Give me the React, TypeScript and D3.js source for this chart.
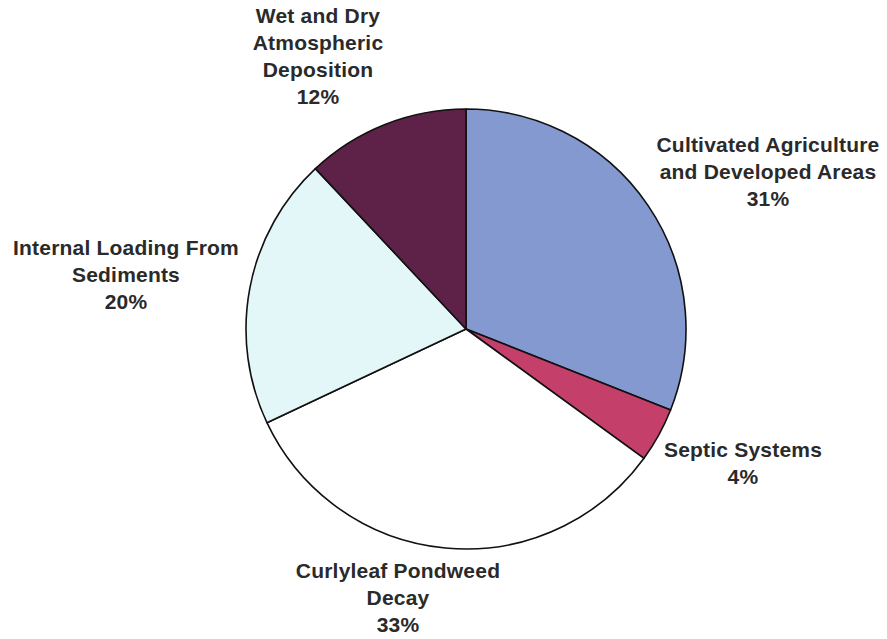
import React from "react";
import * as d3 from "d3";

const categories = [
  "Cultivated Agriculture and Developed Areas",
  "Septic Systems",
  "Curlyleaf Pondweed Decay",
  "Internal Loading From Sediments",
  "Wet and Dry Atmospheric Deposition",
];
const values = [31, 4, 33, 20, 12];
const colors = ["#8499d0", "#c4406a", "#ffffff", "#e3f6f8", "#5e2248"];
const labelLines = [
  ["Cultivated Agriculture", "and Developed Areas", "31%"],
  ["Septic Systems", "4%"],
  ["Curlyleaf Pondweed", "Decay", "33%"],
  ["Internal Loading From", "Sediments", "20%"],
  ["Wet and Dry", "Atmospheric", "Deposition", "12%"],
];
const labelPos: [number, number][] = [
  [768, 152],
  [743, 457],
  [398, 578],
  [126, 255],
  [318, 23],
];

export default function App() {
  const W = 887, H = 639;
  const cx = 466, cy = 329, r = 220;
  const pie = d3.pie<number>().sort(null).startAngle(0).endAngle(2 * Math.PI);
  const arcs = pie(values);
  const arcGen = d3.arc<d3.PieArcDatum<number>>().innerRadius(0).outerRadius(r);
  return (
    <svg width={W} height={H} style={{ position: "absolute", left: 0, top: 0, background: "#fff" }}>
      <g transform={`translate(${cx},${cy})`}>
        {arcs.map((a, i) => (
          <path key={categories[i]} d={arcGen(a) || ""} fill={colors[i]} stroke="#111" strokeWidth={1.6} strokeLinejoin="round" />
        ))}
      </g>
      {labelLines.map((lines, i) => (
        <text key={i} x={labelPos[i][0]} y={labelPos[i][1]} textAnchor="middle"
          fontFamily="Liberation Sans, Arial, sans-serif" fontWeight="bold" fontSize={21} letterSpacing={0.2} fill="#2a2a2a">
          {lines.map((l, j) => (
            <tspan key={j} x={labelPos[i][0]} dy={j === 0 ? 0 : 27}>{l}</tspan>
          ))}
        </text>
      ))}
    </svg>
  );
}
